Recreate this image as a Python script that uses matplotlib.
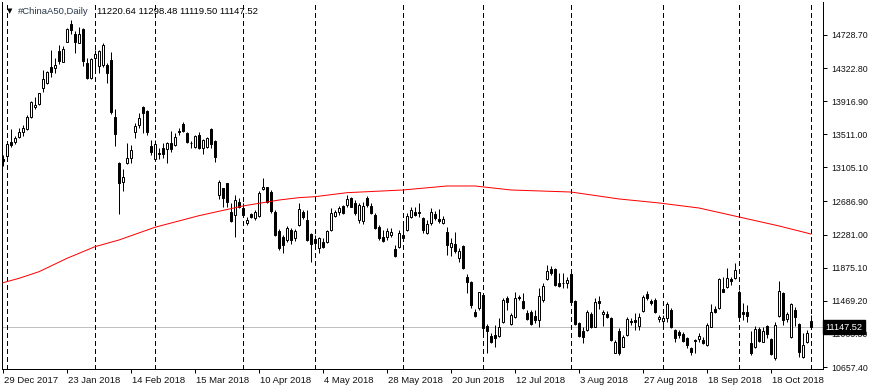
import matplotlib
matplotlib.use('Agg')
import matplotlib.pyplot as plt
import matplotlib.transforms as mtransforms

plt.rcParams['font.family'] = ['Liberation Sans', 'DejaVu Sans']

# daily OHLC, one entry per bar (29 Dec 2017 .. 1 Nov 2018)
open_ = [13208, 13248, 13420, 13420, 13482, 13543, 13573, 13719, 13842, 13887,
         14075, 14144, 14340, 14321, 14533, 14401, 14646, 14860, 14741, 14634,
         14802, 14382, 14205, 14443, 14352, 14361, 14361, 14422, 13719, 13155,
         12930, 13155, 13224, 13543, 13625, 13842, 13797, 13367, 13204, 13285,
         13346, 13331, 13408, 13380, 13555, 13637, 13531, 13408, 13351, 13502,
         13346, 13359, 13576, 13433, 12767, 12849, 12910, 12562, 12521, 12677,
         12603, 12419, 12534, 12481, 12513, 12840, 12861, 12808, 12562, 12329,
         12255, 12215, 12337, 12235, 12398, 12562, 12460, 12285, 12223, 12113,
         12194, 12186, 12337, 12513, 12562, 12632, 12644, 12726, 12665, 12460,
         12451, 12726, 12632, 12521, 12378, 12255, 12255, 12276, 12101, 12125,
         12276, 12337, 12501, 12562, 12562, 12481, 12305, 12419, 12534, 12468,
         12419, 12317, 12133, 12166, 11990, 12141, 11765, 11704, 11336, 11377,
         11540, 11164, 11038, 11050, 11041, 11213, 11500, 11185, 11274, 11520,
         11471, 11316, 11336, 11283, 11234, 11479, 11733, 11856, 11856, 11684,
         11692, 11684, 11794, 11467, 11193, 11099, 11111, 11304, 11152, 11467,
         11304, 11307, 11262, 10833, 11103, 10907, 11050, 11222, 11234, 11160,
         11344, 11549, 11471, 11479, 11242, 11225, 11254, 11356, 11111, 11083,
         11062, 11009, 10894, 10989, 10997, 10989, 10927, 11152, 11369, 11377,
         11610, 11643, 11733, 11753, 11581, 11328, 11336, 10956, 10907, 11124,
         10968, 11160, 11001, 10764, 11287, 11561, 11242, 11029, 11356, 11181,
         10784, 10968, 11220.64]
high = [13257, 13404, 13576, 13494, 13592, 13625, 13748, 13920, 13972, 14021,
        14300, 14291, 14545, 14447, 14606, 14598, 14818, 14913, 14778, 14831,
        14811, 14443, 14443, 14545, 14545, 14627, 14382, 14517, 13817, 13175,
        13085, 13400, 13380, 13646, 13776, 13862, 13805, 13437, 13441, 13339,
        13400, 13420, 13552, 13523, 13585, 13658, 13543, 13429, 13502, 13536,
        13453, 13482, 13585, 13441, 12951, 12853, 12914, 12665, 12767, 12726,
        12665, 12501, 12550, 12583, 12819, 12972, 12869, 12828, 12583, 12346,
        12276, 12386, 12358, 12346, 12665, 12583, 12583, 12297, 12276, 12255,
        12235, 12337, 12603, 12583, 12632, 12644, 12767, 12746, 12705, 12665,
        12684, 12755, 12665, 12542, 12398, 12337, 12358, 12358, 12154, 12337,
        12419, 12542, 12623, 12616, 12665, 12501, 12460, 12603, 12575, 12591,
        12509, 12371, 12235, 12317, 12113, 12154, 11798, 11712, 11365, 11581,
        11561, 11185, 11071, 11172, 11255, 11500, 11528, 11324, 11581, 11540,
        11569, 11356, 11356, 11356, 11623, 11692, 11908, 11896, 11868, 11806,
        11815, 11757, 11827, 11479, 11213, 11152, 11356, 11336, 11500, 11528,
        11356, 11348, 11274, 10989, 11132, 11050, 11267, 11254, 11316, 11316,
        11540, 11590, 11491, 11500, 11295, 11295, 11458, 11377, 11124, 11111,
        11091, 11029, 10907, 10997, 11071, 11029, 11193, 11426, 11410, 11745,
        11765, 11868, 11765, 11929, 11602, 11438, 11418, 11099, 11164, 11152,
        11152, 11172, 11009, 11213, 11712, 11581, 11336, 11438, 11397, 11193,
        11071, 11111, 11298.48]
low = [13122, 13232, 13355, 13388, 13462, 13494, 13564, 13707, 13821, 13870,
       14033, 14132, 14218, 14263, 14369, 14394, 14639, 14737, 14504, 14627,
       14352, 14189, 14189, 14259, 14259, 14332, 14136, 13756, 13371, 12530,
       12819, 13147, 13155, 13470, 13585, 13523, 13502, 13257, 13192, 13208,
       13224, 13155, 13297, 13371, 13502, 13536, 13400, 13339, 13339, 13331,
       13265, 13346, 13339, 13175, 12717, 12623, 12623, 12439, 12255, 12603,
       12501, 12398, 12481, 12460, 12501, 12828, 12665, 12550, 12264, 12092,
       12052, 12194, 12166, 12206, 12386, 12468, 12206, 11943, 12154, 12052,
       12113, 12174, 12325, 12493, 12521, 12534, 12623, 12616, 12521, 12419,
       12411, 12623, 12530, 12350, 12215, 12194, 12215, 12255, 12010, 12113,
       12215, 12325, 12481, 12509, 12501, 12297, 12288, 12398, 12460, 12419,
       12411, 12031, 12019, 12059, 11949, 11859, 11569, 11377, 11274, 11356,
       11071, 10833, 10948, 10907, 11029, 11193, 11356, 11172, 11254, 11479,
       11365, 11234, 11172, 11201, 11152, 11458, 11724, 11786, 11651, 11642,
       11622, 11622, 11438, 11172, 11029, 10955, 11103, 11140, 11144, 11365,
       11160, 11254, 10980, 10825, 10805, 10899, 11041, 11172, 11111, 11111,
       11336, 11479, 11418, 11316, 11213, 11172, 11213, 11140, 10968, 11009,
       10968, 10886, 10805, 10825, 10960, 10936, 10919, 11144, 11316, 11369,
       11573, 11622, 11663, 11737, 11254, 11234, 11213, 10805, 10886, 10960,
       10960, 11009, 10805, 10743, 11274, 11172, 11213, 11017, 11164, 10784,
       10772, 10948, 11119.50]
close = [13178, 13388, 13383, 13462, 13536, 13585, 13719, 13904, 13870, 14014,
         14186, 14279, 14272, 14361, 14414, 14553, 14802, 14790, 14646, 14741,
         14414, 14198, 14434, 14492, 14533, 14606, 14259, 13788, 13511, 12910,
         12984, 13217, 13318, 13613, 13707, 13776, 13536, 13297, 13392, 13265,
         13265, 13400, 13327, 13482, 13536, 13552, 13413, 13400, 13490, 13339,
         13441, 13462, 13388, 13236, 12930, 12726, 12684, 12451, 12705, 12623,
         12521, 12460, 12501, 12562, 12795, 12869, 12684, 12570, 12276, 12120,
         12154, 12358, 12215, 12325, 12591, 12501, 12215, 12166, 12174, 12235,
         12133, 12325, 12550, 12554, 12611, 12542, 12714, 12623, 12542, 12644,
         12632, 12644, 12542, 12358, 12235, 12206, 12325, 12317, 12019, 12305,
         12243, 12509, 12583, 12521, 12546, 12337, 12411, 12562, 12481, 12451,
         12468, 12154, 12174, 12084, 12084, 11868, 11704, 11418, 11287, 11573,
         11132, 11103, 10968, 11009, 11144, 11479, 11458, 11295, 11500, 11500,
         11377, 11246, 11185, 11234, 11532, 11651, 11835, 11815, 11663, 11651,
         11684, 11724, 11458, 11185, 11041, 11029, 11336, 11152, 11451, 11446,
         11336, 11275, 10989, 10960, 10829, 11029, 11242, 11205, 11213, 11274,
         11520, 11500, 11438, 11328, 11274, 11262, 11426, 11152, 11009, 11050,
         10980, 10927, 10838, 10976, 11038, 10956, 11172, 11328, 11328, 11733,
         11581, 11745, 11712, 11847, 11274, 11311, 11283, 10833, 11124, 10976,
         11099, 11062, 10817, 11172, 11590, 11234, 11307, 11426, 11274, 10845,
         10927, 11071, 11147.52]

# moving average read at a few bars
ma_bars = [0, 4, 9, 16, 23, 29, 38, 49, 60, 69, 74, 78, 86, 100, 111, 118,
           127, 142, 154, 164, 174, 184, 194, 202]
ma_vals = [11691, 11745, 11826, 11990, 12133, 12215, 12371, 12513, 12632, 12705,
           12734, 12746, 12795, 12828, 12877, 12877, 12828, 12803, 12718, 12669,
           12607, 12497, 12387, 12288]

# period separators (first bar of each month)
sep_bars = [1, 23, 38, 60, 78, 100, 120, 142, 165, 184, 202]

date_bars = [0, 16, 32, 48, 64, 80, 96, 112, 128, 144, 160, 176, 192]
date_labels = ['29 Dec 2017', '23 Jan 2018', '14 Feb 2018', '15 Mar 2018',
               '10 Apr 2018', '4 May 2018', '28 May 2018', '20 Jun 2018',
               '12 Jul 2018', '3 Aug 2018', '27 Aug 2018', '18 Sep 2018',
               '18 Oct 2018']

price_ticks = [14728.70, 14322.80, 13916.90, 13511.00, 13105.10, 12686.90,
               12281.00, 11875.10, 11469.20, 11063.30, 10657.40]

last_price = 11147.52
symbol = '#ChinaA50,Daily'

fig = plt.figure(figsize=(8.7, 3.9), dpi=100)
ax = fig.add_axes([2 / 870, 21 / 390, 821 / 870, 367 / 390])

px = 0.72  # one pixel in points
for i in range(len(close)):
    ax.vlines(i, low[i], high[i], color='black', lw=px, zorder=2)
    bottom = min(open_[i], close[i])
    h = abs(close[i] - open_[i])
    face = 'white' if close[i] > open_[i] else 'black'
    ax.bar(i, h, bottom=bottom, width=0.5, color=face, edgecolor='black',
           linewidth=px, zorder=3)

ax.plot(ma_bars, ma_vals, color='#ff0000', lw=px, zorder=4)

for b in sep_bars:
    ax.axvline(b, color='black', lw=1.0, linestyle=(0, (3, 2.5)),
               antialiased=False, zorder=1)

ax.axhline(last_price, color='#c0c0c0', lw=px, zorder=0.5)

ax.set_xlim(-0.25, 205)
ax.set_ylim(10633, 15133)

ax.set_xticks(date_bars)
ax.set_xticklabels(date_labels, ha='left')
ax.set_yticks(price_ticks)
ax.set_yticklabels(['%.2f' % v for v in price_ticks])
ax.yaxis.tick_right()
ax.tick_params(axis='both', length=3, width=px, color='black',
               labelcolor='#111111')
ax.tick_params(axis='x', labelsize=6.8, pad=2)
ax.tick_params(axis='y', labelsize=6.3, pad=3)
for lbl in ax.get_xticklabels():
    lbl.set_transform(lbl.get_transform() + mtransforms.ScaledTranslation(1 / 100, 0, fig.dpi_scale_trans))

for s in ax.spines.values():
    s.set_linewidth(px)
ax.spines['top'].set_visible(False)

# current price marker on the scale
trans = mtransforms.blended_transform_factory(ax.transAxes, ax.transData)
ax.text(1.003, last_price, '%.2f' % last_price, transform=trans, ha='left',
        va='center', color='white', fontsize=6.6, zorder=10, clip_on=False,
        bbox=dict(boxstyle='square,pad=0.3', fc='black', ec='black'))

fig.text(7 / 870, 1 - 11 / 390, '\u25bc', fontsize=5, va='center', ha='left',
         color='black', family=['DejaVu Sans'])
fig.text(18 / 870, 1 - 11 / 390, symbol, fontsize=6.8, va='center', ha='left',
         color='#2a3a4a')
fig.text(97 / 870, 1 - 11 / 390, '%.2f %.2f %.2f %.2f' % (open_[-1], high[-1], low[-1], close[-1]),
         fontsize=6.8, va='center', ha='left', color='black')

fig.savefig('out.png', dpi=100, facecolor='white')
